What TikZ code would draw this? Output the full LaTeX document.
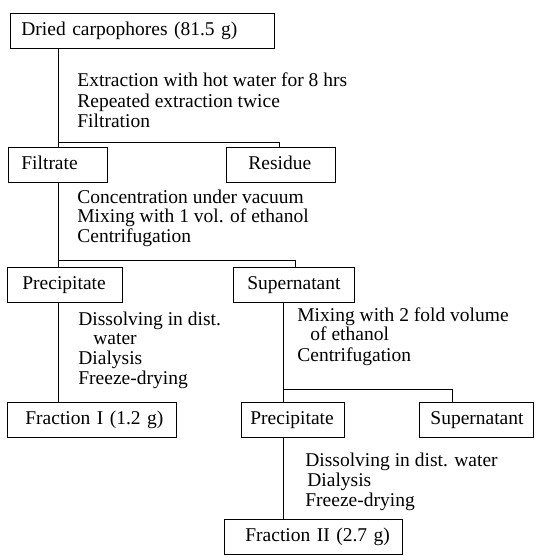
\documentclass[tikz,border=0pt]{standalone}
\usepackage{fontspec}
\setmainfont{Liberation Serif}

\begin{document}
\begin{tikzpicture}[x=1pt,y=-1pt,line width=0.8pt,
  stage/.style 2 args={draw,anchor=north west,inner xsep=0pt,inner ysep=0pt,
    text width=#1,minimum height=35pt,text height=14pt,text depth=4pt,align=left,
    execute at begin node={\hspace*{#2}}},
  steptext/.style={anchor=base west,inner sep=0pt,align=left},
  every node/.append style={font=\fontsize{19.5}{19.5}\selectfont}]
\useasboundingbox (0,0) rectangle (535,556);
% boxes
\node[stage={264pt}{11pt}] (dried) at (10,13) {Dried carpophores (81.5 g)};
\node[stage={99pt}{13pt}] (filtrate) at (8,147) {Filtrate};
\node[stage={109pt}{22pt}] (residue) at (226,147) {Residue};
\node[stage={115pt}{15pt}] (prec1) at (7,267) {Precipitate};
\node[stage={121pt}{14pt}] (super1) at (233,267) {Supernatant};
\node[stage={169pt}{18pt}] (fracI) at (7,402) {Fraction I (1.2 g)};
\node[stage={103pt}{9pt}] (prec2) at (241,402) {Precipitate};
\node[stage={114pt}{11pt}] (super2) at (419,402) {Supernatant};
\node[stage={178pt}{21pt}] (fracII) at (224,519) {Fraction II (2.7 g)};
% treatment steps (placed at the baseline of the last line)
\node[steptext] (extract) at (77,128) {Extraction with hot water for 8 hrs\\[1pt]
  Repeated extraction twice\\[1pt] Filtration};
\node[steptext] (concen) at (77,242) {Concentration under vacuum\\
  Mixing with 1 vol. of ethanol\\ Centrifugation};
\node[steptext] (dissolveI) at (78,384.5) {Dissolving in dist.\\
  \hspace*{15pt}water\\[0.5pt] Dialysis\\[0.5pt] Freeze-drying};
\node[steptext] (remix) at (297,361) {Mixing with 2 fold volume\\[-0.5pt]
  \hspace*{13pt}of ethanol\\[1pt] Centrifugation};
\node[steptext] (dissolveII) at (305,506) {Dissolving in dist. water\\
  \hspace*{2pt}Dialysis\\[0.5pt] Freeze-drying};
% connectors
\coordinate (split1) at (58,142);
\coordinate (split1r) at (279,142);
\coordinate (split2) at (58,260);
\coordinate (split2r) at (295,260);
\coordinate (split3) at (283,389);
\coordinate (split3r) at (452,389);
\draw (dried.south -| split1) -- (filtrate.north -| split1);
\draw (split1) -- (split1r) -- (residue.north -| split1r);
\draw (filtrate.south -| split2) -- (prec1.north -| split2);
\draw (split2) -- (split2r) -- (super1.north -| split2r);
\draw (prec1.south -| split2) -- (fracI.north -| split2);
\draw (super1.south -| split3) -- (prec2.north -| split3);
\draw (split3) -- (split3r) -- (super2.north -| split3r);
\draw (prec2.south -| split3) -- (fracII.north -| split3);
\end{tikzpicture}
\end{document}
